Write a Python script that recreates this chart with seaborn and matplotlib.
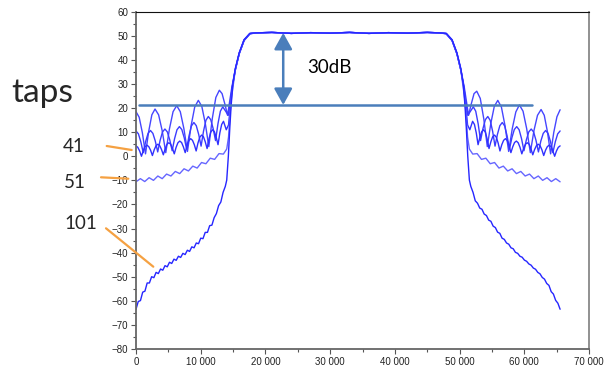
import pandas as pd
import seaborn as sns
import matplotlib.pyplot as plt
from matplotlib.lines import Line2D
from matplotlib.ticker import FuncFormatter, MultipleLocator

# --- data (x = FFT bin, y = dB) ---

# flat passband shared by every curve
pass_x = [18500, 21000, 24000, 27000, 30000, 33000, 36000, 39000, 42000, 45000, 47000]
pass_db = [51.2, 51.4, 51.0, 51.3, 51.1, 51.4, 51.0, 51.3, 51.1, 51.4, 51.2]

# widest lobes (fewest taps)
t21_left_x = [0, 490, 980, 1470, 1960, 2450, 2940, 3493, 4047, 4600, 5163, 5727, 6290, 6843, 7397,
              7950, 8510, 9070, 9630, 10170, 10710, 11250, 11793, 12337, 12880, 13300, 13750, 14150,
              14400, 14800, 15300, 15950, 16700, 17600]
t21_left_db = [18.5, 16.2, 9.8, 1.0, 10.3, 17.2, 19.6, 17.2, 10.6, 1.5, 11.3, 18.5, 21.0, 18.5, 11.5,
               2.0, 12.6, 20.4, 23.2, 20.7, 13.6, 4.0, 15.7, 24.4, 27.4, 26.0, 21.5, 17.0,
               21.5, 28.5, 35.5, 42.5, 48.0, 50.8]
t21_right_x = [47936, 48836, 49586, 50236, 50736, 51136, 51386, 51786, 52236, 52656, 53199, 53743, 54286,
               54826, 55366, 55906, 56466, 57026, 57586, 58139, 58693, 59246, 59809, 60373, 60936,
               61489, 62043, 62596, 63086, 63576, 64066, 64556, 65046, 65535]
t21_right_db = [50.8, 48.0, 42.5, 35.5, 28.5, 21.5, 17.0, 21.5, 26.0, 27.0, 24.0, 15.5, 4.0,
                13.6, 20.7, 23.2, 20.4, 12.6, 2.0, 11.4, 18.4, 21.3, 18.7, 11.4, 1.5,
                10.6, 17.0, 19.4, 17.0, 10.2, 1.0, 9.9, 16.4, 19.3]

t31_left_x = [0, 373, 745, 1118, 1491, 1863, 2235, 2608, 2980, 3353, 3726, 4098, 4470, 4843, 5215,
              5588, 5961, 6333, 6705, 7078, 7450, 7823, 8196, 8568, 8940, 9313, 9685, 10058, 10431,
              10803, 11175, 11548, 11920, 12293, 12666, 13038, 13410, 13900, 14250, 14550, 14900,
              15350, 15950, 16700, 17600]
t31_left_db = [10.5, 9.3, 6.0, 1.5, 6.1, 9.5, 10.7, 9.5, 6.3, 1.8, 6.6, 10.1, 11.3, 10.1, 6.8,
               2.3, 7.3, 11.0, 12.3, 11.1, 7.7, 3.0, 8.5, 12.6, 14.0, 12.7, 9.1, 4.2, 10.4,
               14.9, 16.5, 15.2, 11.5, 6.5, 13.5, 18.7, 20.5, 18.5, 17.0, 22.0, 29.0,
               36.0, 42.7, 48.2, 50.9]
t31_right_x = [47936, 48836, 49586, 50186, 50636, 50986, 51286, 51636, 52126, 52498, 52870, 53243,
               53616, 53988, 54361, 54733, 55105, 55478, 55851, 56223, 56596, 56968, 57340, 57713,
               58086, 58458, 58831, 59203, 59575, 59948, 60321, 60693, 61066, 61438, 61810, 62183,
               62556, 62928, 63301, 63673, 64045, 64418, 64791, 65163, 65535]
t31_right_db = [50.9, 48.2, 42.7, 36.0, 29.0, 22.0, 17.0, 18.5, 20.5, 18.7, 13.5, 6.5,
                11.5, 15.2, 16.5, 14.9, 10.4, 4.2, 9.1, 12.7, 14.0, 12.6, 8.5, 3.0,
                7.7, 11.1, 12.3, 11.0, 7.3, 2.3, 6.8, 10.1, 11.3, 10.1, 6.6, 1.8,
                6.3, 9.5, 10.7, 9.5, 6.1, 1.5, 6.0, 9.3, 10.5]

t41_left_x = [0, 282, 563, 845, 1127, 1408, 1690, 1972, 2253, 2535, 2817, 3098, 3380, 3662, 3943,
              4225, 4507, 4788, 5070, 5352, 5633, 5915, 6197, 6478, 6760, 7042, 7323, 7605, 7887,
              8168, 8450, 8732, 9013, 9295, 9577, 9858, 10140, 10422, 10703, 10985, 11267, 11548,
              11830, 12112, 12393, 12675, 12957, 13238, 13520, 13950, 14300, 14600, 14850, 15350,
              15950, 16700, 17600]
t41_left_db = [4.3, 3.7, 2.2, 0.0, 2.3, 4.0, 4.6, 4.0, 2.5, 0.3, 2.7, 4.4, 5.0, 4.4, 2.8,
               0.6, 3.1, 5.0, 5.6, 5.0, 3.3, 1.0, 3.7, 5.6, 6.3, 5.7, 3.9, 1.5, 4.4,
               6.5, 7.3, 6.6, 4.8, 2.2, 5.5, 7.9, 8.8, 8.1, 6.0, 3.2, 7.1, 10.0,
               11.0, 10.2, 7.9, 4.8, 9.7, 13.2, 14.5, 11.0, 13.0, 21.5, 28.5, 35.8,
               42.6, 48.1, 50.9]
t41_right_x = [47936, 48836, 49586, 50186, 50686, 50936, 51236, 51586, 52016, 52298, 52579, 52861,
               53143, 53424, 53706, 53988, 54269, 54551, 54833, 55114, 55396, 55678, 55959, 56241,
               56523, 56804, 57086, 57368, 57649, 57931, 58213, 58494, 58776, 59058, 59339, 59621,
               59903, 60184, 60466, 60748, 61029, 61311, 61593, 61874, 62156, 62438, 62719, 63001,
               63283, 63564, 63846, 64128, 64409, 64691, 64973, 65254, 65535]
t41_right_db = [50.9, 48.1, 42.6, 35.8, 28.5, 21.5, 13.0, 11.0, 14.5, 13.2, 9.7, 4.8,
                7.9, 10.2, 11.0, 10.0, 7.1, 3.2, 6.0, 8.1, 8.8, 7.9, 5.5, 2.2,
                4.8, 6.6, 7.3, 6.5, 4.4, 1.5, 3.9, 5.7, 6.3, 5.6, 3.7, 1.0,
                3.3, 5.0, 5.6, 5.0, 3.1, 0.6, 2.8, 4.4, 5.0, 4.4, 2.7, 0.3,
                2.5, 4.0, 4.6, 4.0, 2.3, 0.0, 2.2, 3.7, 4.3]

t51_left_x = [0, 675, 1350, 2025, 2700, 3375, 4050, 4725, 5400, 6075, 6750, 7425, 8100, 8775, 9450,
              10125, 10800, 11475, 12150, 12825, 13500, 14020, 14300, 14550, 14750, 15350, 15950,
              16700, 17600]
t51_left_db = [-10.6, -9.3, -10.5, -8.9, -10.0, -8.2, -9.3, -7.4, -8.2, -6.3, -7.2, -5.2, -6.1, -4.1,
               -4.9, -2.6, -3.1, -0.8, -1.3, 1.1, 0.9, 3.0, 8.0, 18.0, 24.0, 36.0, 42.8, 48.3, 51.0]
t51_right_x = [47936, 48836, 49586, 50186, 50786, 50986, 51236, 51516, 52036, 52711, 53386, 54061,
               54736, 55411, 56086, 56761, 57436, 58111, 58786, 59461, 60136, 60811, 61486, 62161,
               62836, 63511, 64186, 64861, 65535]
t51_right_db = [51.0, 48.3, 42.8, 36.0, 24.0, 18.0, 8.0, 3.0, 0.9, 1.1, -1.3, -0.8, -3.1, -2.6,
                -4.9, -4.1, -6.1, -5.2, -7.2, -6.3, -8.2, -7.4, -9.3, -8.2, -10.0, -8.9, -10.5,
                -9.3, -10.6]

t101_left_x = [0, 345, 690, 1035, 1380, 1725, 2070, 2415, 2760, 3105, 3450, 3795, 4140, 4485, 4830,
               5175, 5520, 5865, 6210, 6555, 6900, 7245, 7590, 7935, 8280, 8625, 8970, 9315, 9660,
               10005, 10350, 10695, 11040, 11385, 11730, 12075, 12420, 12765, 13110, 13455, 13800,
               14020, 14270, 14500, 14700, 14950, 15350, 15950, 16700, 17600]
t101_left_db = [-63.5, -60.3, -59.9, -56.4, -56.0, -52.6, -52.6, -50.0, -50.4, -48.2, -48.7, -46.8,
                -47.3, -45.4, -45.9, -44.0, -44.5, -42.7, -43.2, -41.5, -42.0, -40.3, -40.8, -39.0,
                -39.5, -37.6, -38.0, -36.0, -36.3, -34.0, -34.2, -31.6, -31.6, -28.8, -28.6, -25.5,
                -23.8, -20.5, -19.0, -15.0, -12.5, -9.9, 0.0, 12.0, 21.0, 29.5, 36.5, 43.0, 48.4, 51.0]
t101_right_x = [47936, 48836, 49586, 50186, 50586, 50836, 51036, 51266, 51516, 51736, 52081, 52426,
                52771, 53116, 53461, 53806, 54151, 54496, 54841, 55186, 55531, 55876, 56221, 56566,
                56911, 57256, 57601, 57946, 58291, 58636, 58981, 59326, 59671, 60016, 60361, 60706,
                61051, 61396, 61741, 62086, 62431, 62776, 63121, 63466, 63811, 64156, 64501, 64846,
                65191, 65535]
t101_right_db = [51.0, 48.4, 43.0, 36.5, 29.5, 21.0, 12.0, 0.0, -9.9, -12.5, -15.0, -18.5,
                 -19.5, -21.5, -22.0, -24.0, -24.6, -26.5, -27.0, -29.0, -29.6, -31.5, -32.0, -34.0,
                 -34.5, -36.0, -36.5, -38.0, -38.4, -39.9, -40.3, -41.5, -41.9, -43.1, -43.6, -44.7,
                 -45.2, -46.4, -46.9, -48.2, -48.8, -50.3, -51.0, -52.8, -53.6, -56.2, -57.2, -59.8,
                 -61.0, -63.5]

# annotation values
level_x = [500, 61200]     # the horizontal reference line
level_db = 21.3
peak_db = 51.2
arrow_x = 22750
gap_label = "30dB"
tap_labels = ["41", "51", "101"]

curves = {
    "21": (t21_left_x, t21_left_db, t21_right_x, t21_right_db),
    "31": (t31_left_x, t31_left_db, t31_right_x, t31_right_db),
    "41": (t41_left_x, t41_left_db, t41_right_x, t41_right_db),
    "51": (t51_left_x, t51_left_db, t51_right_x, t51_right_db),
    "101": (t101_left_x, t101_left_db, t101_right_x, t101_right_db),
}
colors = {"21": "#4646ff", "31": "#3c3cff", "41": "#3030ff", "51": "#6666ff", "101": "#2626ff"}

frames = []
for name, (lx, ld, rx, rd) in curves.items():
    frames.append(pd.DataFrame({"bin": lx + pass_x + rx, "dB": ld + pass_db + rd, "taps": name}))
df = pd.concat(frames, ignore_index=True)

sns.set_style("white")
plt.rcParams["font.family"] = ["Liberation Sans", "DejaVu Sans"]

W, H = 606, 367
fig = plt.figure(figsize=(W / 100, H / 100), dpi=100)
ax = fig.add_axes([136 / W, 1 - 349 / H, (589 - 136) / W, (349 - 11.7) / H])

sns.lineplot(data=df, x="bin", y="dB", hue="taps", palette=colors, estimator=None,
             sort=False, legend=False, linewidth=1.0, ax=ax)

line_col = "#4a7ebb"
ax.plot(level_x, [level_db, level_db], color=line_col, lw=1.8, zorder=5)
ax.annotate("", xy=(arrow_x, peak_db), xytext=(arrow_x, level_db),
            arrowprops=dict(arrowstyle="<|-|>,head_length=0.45,head_width=0.25",
                            mutation_scale=22, color=line_col, lw=1.8,
                            shrinkA=0, shrinkB=0), zorder=6)
ax.text(26400, 37, gap_label, fontsize=13.5, family=["Lato", "DejaVu Sans"],
        va="center", ha="left", color="black")

ax.set_xlim(0, 70000)
ax.set_ylim(-80, 60)
ax.set_xlabel("")
ax.set_ylabel("")
ax.xaxis.set_major_locator(MultipleLocator(10000))
ax.xaxis.set_minor_locator(MultipleLocator(5000))
ax.yaxis.set_major_locator(MultipleLocator(10))
ax.yaxis.set_minor_locator(MultipleLocator(5))
ax.xaxis.set_major_formatter(FuncFormatter(lambda v, p: f"{int(v):,}".replace(",", " ")))
ax.tick_params(which="major", direction="out", length=3.5, width=0.8, color="#555555",
               labelsize=7, labelcolor="#222222", pad=2, bottom=True, left=True)
ax.tick_params(which="minor", direction="out", length=2, width=0.8, color="#555555",
               bottom=True, left=True)

for side in ["left", "bottom"]:
    ax.spines[side].set_color("#666666")
    ax.spines[side].set_linewidth(1.3)
ax.spines["top"].set_color("#111111")
ax.spines["top"].set_linewidth(0.8)
ax.spines["right"].set_color("#888888")
ax.spines["right"].set_linewidth(1.3)

# labels to the left of the plot
fig.text(11 / W, 1 - 101.7 / H, "taps", fontsize=24, family=["Lato", "DejaVu Sans"],
         ha="left", va="baseline")
label_pos = [(63, 151.7), (64, 188), (64, 229.3)]
for txt, (px, py) in zip(tap_labels, label_pos):
    fig.text(px / W, 1 - py / H, txt, fontsize=13.5, family=["Lato", "DejaVu Sans"],
             ha="left", va="baseline")

orange = "#f5a142"
pointers = [((106.7, 146), (131.7, 150)), ((101, 177.3), (128.3, 178.7)), ((106, 228.3), (153.3, 266.7))]
for (x0, y0), (x1, y1) in pointers:
    fig.add_artist(Line2D([x0 / W, x1 / W], [1 - y0 / H, 1 - y1 / H], transform=fig.transFigure,
                          color=orange, lw=1.6))

fig.savefig("out.png", dpi=100)
